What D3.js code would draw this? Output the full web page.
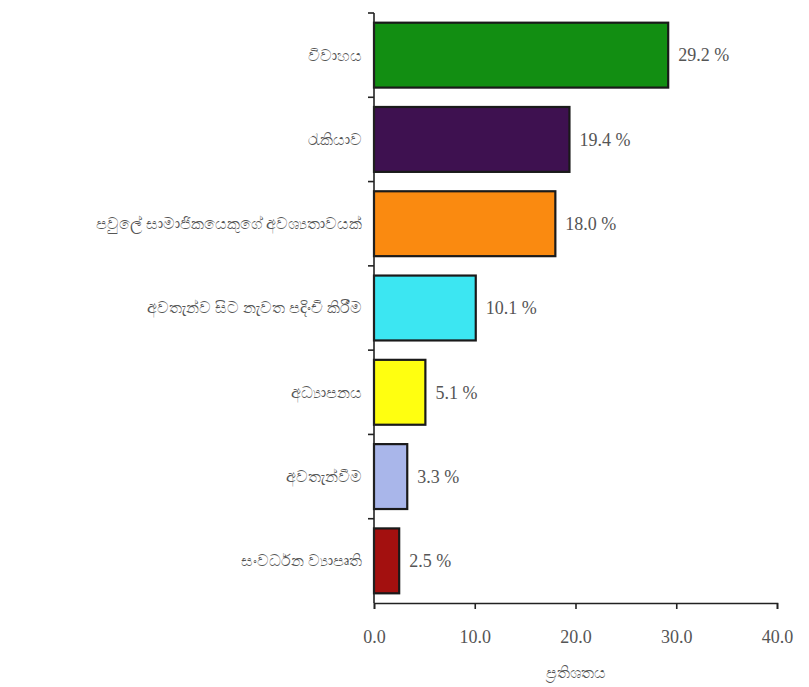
<!DOCTYPE html>
<html><head><meta charset="utf-8">
<script src="https://cdn.jsdelivr.net/npm/d3@7"></script>
<style>body{margin:0;background:#fff}svg{display:block}.serif{font-family:"Liberation Serif","Times New Roman",Times,serif}</style>
</head><body>
<script>
const categories = ["විවාහය","රැකියාව","පවුලේ සාමාජිකයෙකුගේ අවශ්‍යතාවයක්","අවතැන්ව සිට නැවත පදිංචි කිරීම","අධ්‍යාපනය","අවතැන්වීම","සංවර්ධන ව්‍යාපෘති"];
const values = [29.2,19.4,18.0,10.1,5.1,3.3,2.5];
const barColors = ["#128e12","#3e1150","#fa8a10","#3ce6f2","#ffff10","#a9b6ea","#a3100f"];
const xTicks = [0,10,20,30,40];
const xTitle = "ප්‍රතිශතය";

const W=809,H=687;
const m={left:374,right:32,top:13,bottom:84};
const svg=d3.select("body").append("svg").attr("width",W).attr("height",H);
const x=d3.scaleLinear().domain([0,40]).range([m.left,W-m.right]);
const y=d3.scaleBand().domain(categories).range([m.top,H-m.bottom]).paddingInner(0.23).paddingOuter(0.115);

// bars
svg.append("g").selectAll("rect").data(values).join("rect")
  .attr("x",x(0)).attr("y",(d,i)=>y(categories[i]))
  .attr("width",d=>x(d)-x(0)).attr("height",y.bandwidth())
  .attr("fill",(d,i)=>barColors[i]).attr("stroke","#1a1a1a").attr("stroke-width",2.2);

// value labels
svg.append("g").selectAll("text").data(values).join("text").attr("class","serif")
  .attr("x",d=>x(d)+10).attr("y",(d,i)=>y(categories[i])+y.bandwidth()/2)
  .attr("dy","0.35em")
  .attr("font-size",18).attr("fill","#555").text(d=>d.toFixed(1)+" %");

// y axis
const yAxis=svg.append("g");
yAxis.append("line").attr("x1",x(0)).attr("x2",x(0)).attr("y1",m.top).attr("y2",H-m.bottom).attr("stroke","#222").attr("stroke-width",1.6);
const step=y.step();
const bounds=d3.range(categories.length).map(i=>m.top+i*step);
yAxis.selectAll("line.t").data(bounds).join("line").attr("class","t")
  .attr("x1",x(0)-6).attr("x2",x(0)).attr("y1",d=>d).attr("y2",d=>d).attr("stroke","#222").attr("stroke-width",1.6);
yAxis.selectAll("text").data(categories).join("text")
  .attr("x",x(0)-12).attr("y",d=>y(d)+y.bandwidth()/2).attr("dy","0.35em")
  .attr("text-anchor","end").attr("font-family","'Noto Sans','DejaVu Sans',sans-serif")
  .attr("font-size",15.5).attr("fill","#555").text(d=>d);

// x axis
const xg=svg.append("g").attr("transform",`translate(0,${H-m.bottom})`)
  .call(d3.axisBottom(x).tickValues(xTicks).tickSize(6).tickPadding(21).tickFormat(d3.format(".1f")));
xg.attr("font-family",null);
xg.select(".domain").attr("stroke","#222").attr("stroke-width",1.6);
xg.selectAll(".tick line").attr("stroke","#222").attr("stroke-width",1.6);
xg.selectAll(".tick text").attr("class","serif").attr("font-size",18).attr("fill","#555");

svg.append("text").attr("x",(x(0)+x(40))/2).attr("y",H-9).attr("text-anchor","middle")
  .attr("font-family","'Noto Sans','DejaVu Sans',sans-serif").attr("font-size",15.5).attr("fill","#555").text(xTitle);
</script>
</body></html>
